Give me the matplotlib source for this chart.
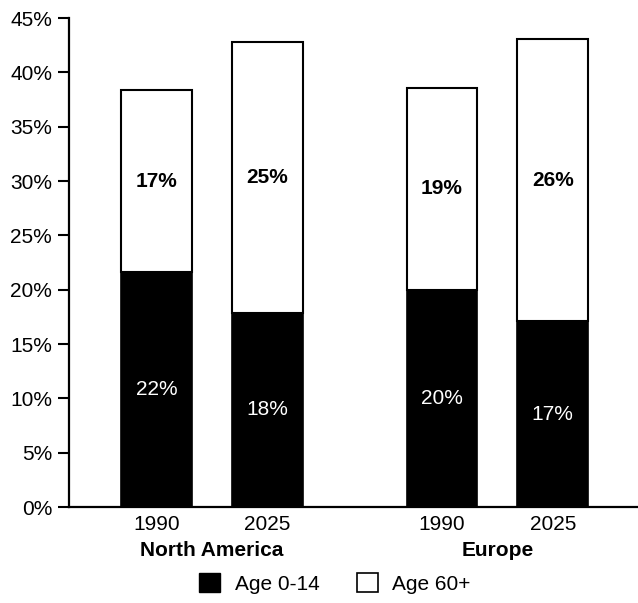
import numpy as np
import matplotlib
matplotlib.use("Agg")
import matplotlib.pyplot as plt
from matplotlib.patches import Patch

plt.rcParams["font.family"] = ["Liberation Sans", "DejaVu Sans"]

# share of population by age band, percent
regions = ["North America", "Europe"]
years = ["1990", "2025", "1990", "2025"]
young = [21.6, 17.9, 20.0, 17.1]   # age 0-14
old = [16.8, 24.9, 18.6, 26.0]     # age 60+
y_ticks = [0, 5, 10, 15, 20, 25, 30, 35, 40, 45]

x = np.array([0.0, 1.0, 2.58, 3.58])
width = 0.64

fig = plt.figure(figsize=(6.38, 6.03), dpi=100)
ax = fig.add_axes([0.108, 0.159, 0.892, 0.811])

ax.bar(x, young, width, color="black", edgecolor="black", linewidth=1.2)
ax.bar(x, old, width, bottom=young, color="white", edgecolor="black", linewidth=1.5)

for xi, yv, ov in zip(x, young, old):
    ax.text(xi, yv / 2, f"{yv:.0f}%", color="white", fontsize=15,
            ha="center", va="center")
    ax.text(xi, yv + ov / 2, f"{ov:.0f}%", color="black", fontsize=15,
            fontweight="bold", ha="center", va="center")

ax.set_xlim(-0.79, 4.35)
ax.set_ylim(0, 45)
ax.set_yticks(y_ticks)
ax.set_yticklabels([f"{t}%" for t in y_ticks], fontsize=15)
ax.set_xticks(x)
ax.set_xticklabels(years, fontsize=15)
ax.tick_params(axis="y", length=8, width=1.5, pad=4)
ax.tick_params(axis="x", length=0, pad=6)

for side in ("top", "right"):
    ax.spines[side].set_visible(False)
for side in ("left", "bottom"):
    ax.spines[side].set_linewidth(1.6)

# region names under each pair of bars
trans = ax.get_xaxis_transform()
for i, name in enumerate(regions):
    ax.text(x[2 * i:2 * i + 2].mean(), -0.088, name, transform=trans,
            ha="center", va="center", fontsize=15, fontweight="bold")

handles = [Patch(facecolor="black", edgecolor="black", label="Age 0-14"),
           Patch(facecolor="white", edgecolor="black", linewidth=1.2, label="Age 60+")]
fig.legend(handles=handles, loc="center", bbox_to_anchor=(0.525, 0.032),
           ncol=2, frameon=False, fontsize=15, handlelength=1.0,
           handleheight=1.0, handletextpad=0.7, columnspacing=1.8)

fig.savefig("out.png", dpi=100)
